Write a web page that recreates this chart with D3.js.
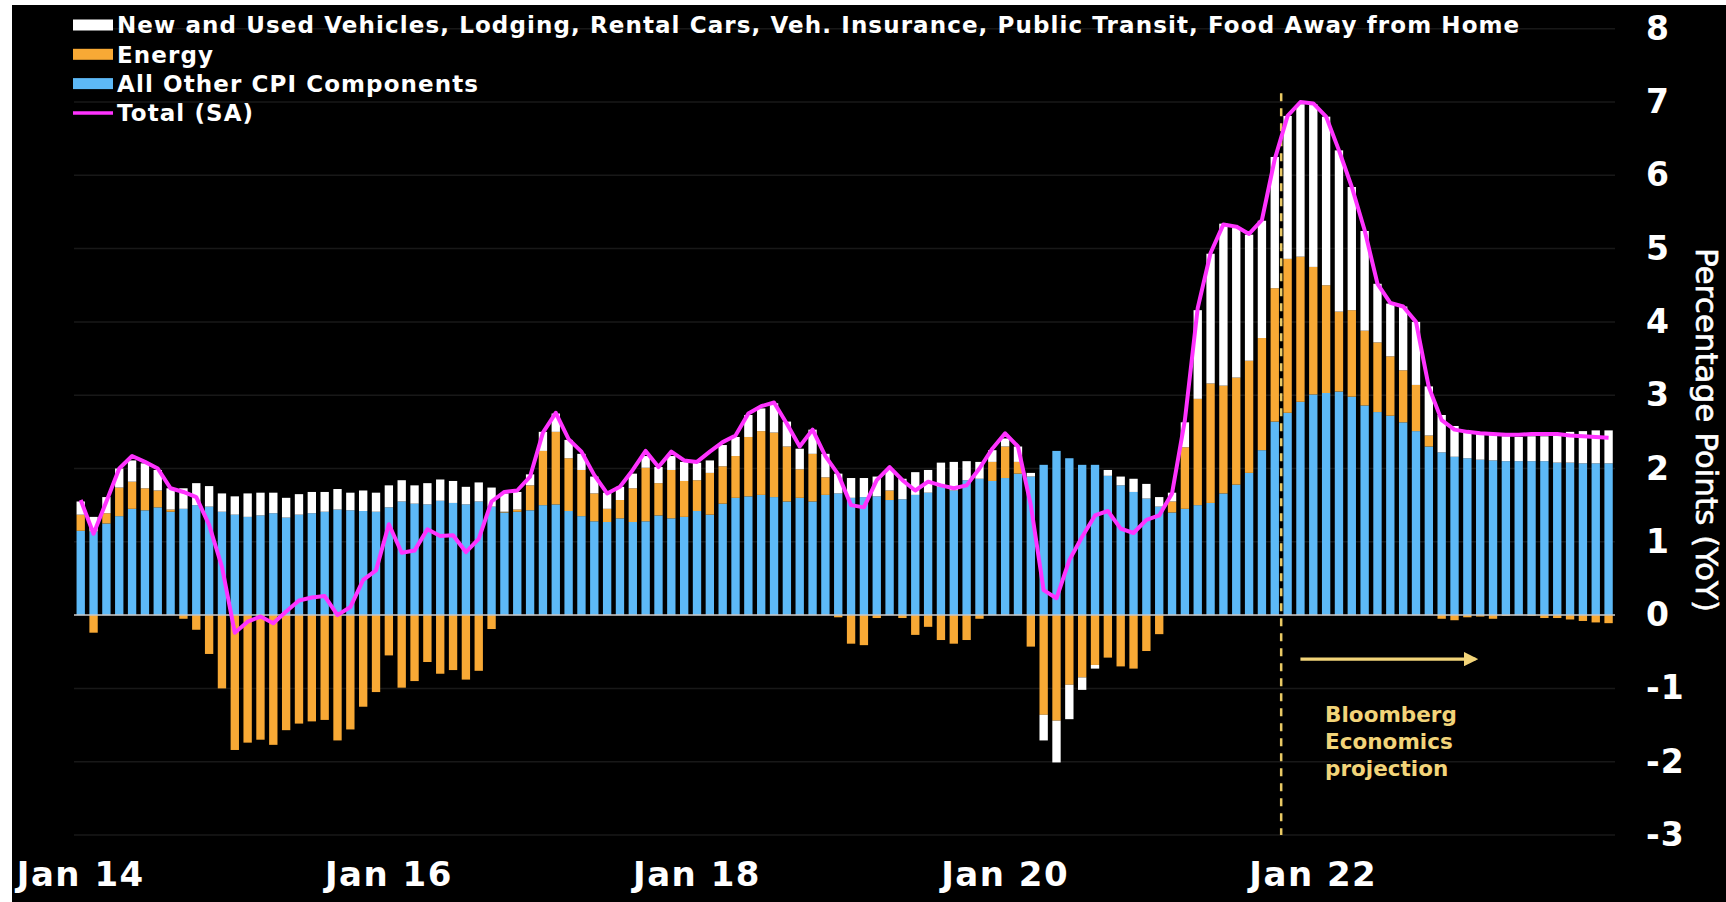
<!DOCTYPE html>
<html>
<head>
<meta charset="utf-8">
<script src="https://cdn.jsdelivr.net/npm/d3@7"></script>
<style>
  html, body { margin: 0; padding: 0; background: #fff; }
  svg { display: block; }
  text { font-family: "DejaVu Sans", Verdana, sans-serif; }
</style>
</head>
<body>
<svg id="chart" width="1726" height="902"></svg>
<script>
// months Jan 2014 .. Dec 2023
const fmtKey = d3.utcFormat('%Y-%m');
const months = d3.utcMonths(new Date(Date.UTC(2014, 0, 1)), new Date(Date.UTC(2024, 0, 1))).map(fmtKey);

// All Other CPI Components (blue)
const otherVals = [
  1.15, 1.14, 1.25, 1.35, 1.45, 1.43, 1.47, 1.41, 1.45, 1.50, 1.48, 1.41,
  1.37, 1.34, 1.36, 1.39, 1.33, 1.37, 1.39, 1.41, 1.44, 1.43, 1.42, 1.41,
  1.47, 1.55, 1.52, 1.51, 1.56, 1.53, 1.51, 1.55, 1.48, 1.40, 1.41, 1.43,
  1.50, 1.51, 1.42, 1.35, 1.28, 1.27, 1.32, 1.27, 1.28, 1.36, 1.32, 1.34,
  1.42, 1.37, 1.52, 1.60, 1.62, 1.64, 1.61, 1.55, 1.60, 1.55, 1.64, 1.66,
  1.60, 1.61, 1.62, 1.57, 1.58, 1.64, 1.67, 1.75, 1.70, 1.84, 1.86, 1.83,
  1.87, 1.93, 1.89, 2.05, 2.24, 2.14, 2.05, 2.05, 1.90, 1.77, 1.68, 1.59,
  1.48, 1.40, 1.45, 1.50, 1.53, 1.66, 1.78, 1.94, 2.25, 2.64, 2.76, 2.91,
  3.01, 3.03, 3.05, 2.98, 2.86, 2.77, 2.72, 2.63, 2.51, 2.30, 2.22, 2.16,
  2.14, 2.12, 2.11, 2.10, 2.10, 2.10, 2.10, 2.08, 2.08, 2.07, 2.07, 2.07
];
// Energy (orange)
const energyVals = [
  0.22, -0.24, 0.14, 0.39, 0.37, 0.30, 0.23, 0.03, -0.05, -0.20, -0.53, -1.00,
  -1.84, -1.74, -1.70, -1.77, -1.57, -1.48, -1.45, -1.43, -1.71, -1.56, -1.25, -1.05,
  -0.55, -0.99, -0.90, -0.64, -0.80, -0.75, -0.88, -0.76, -0.19, 0.01, 0.03, 0.34,
  0.74, 0.99, 0.72, 0.63, 0.38, 0.18, 0.25, 0.46, 0.73, 0.44, 0.66, 0.49,
  0.42, 0.57, 0.51, 0.57, 0.81, 0.87, 0.88, 0.75, 0.39, 0.65, 0.24, -0.03,
  -0.39, -0.41, -0.04, 0.13, -0.04, -0.27, -0.16, -0.34, -0.39, -0.34, -0.05, 0.26,
  0.43, 0.16, -0.43, -1.36, -1.44, -0.95, -0.85, -0.68, -0.58, -0.70, -0.73, -0.49,
  -0.26, 0.15, 0.84, 1.45, 1.63, 1.47, 1.46, 1.53, 1.53, 1.82, 2.10, 1.98,
  1.74, 1.47, 1.09, 1.18, 1.02, 0.95, 0.81, 0.71, 0.63, 0.15, -0.05, -0.07,
  -0.03, -0.02, -0.05, -0.01, 0.00, -0.01, -0.04, -0.04, -0.06, -0.08, -0.10, -0.11
];
// New and Used Vehicles, Lodging, Rental Cars, ... (white)
const vehicleVals = [
  0.18, 0.20, 0.22, 0.26, 0.29, 0.34, 0.28, 0.29, 0.28, 0.30, 0.28, 0.25,
  0.25, 0.32, 0.31, 0.28, 0.27, 0.28, 0.29, 0.27, 0.28, 0.24, 0.28, 0.26,
  0.30, 0.29, 0.25, 0.29, 0.29, 0.30, 0.24, 0.26, 0.26, 0.25, 0.24, 0.15,
  0.26, 0.25, 0.25, 0.22, 0.23, 0.22, 0.18, 0.20, 0.16, 0.22, 0.19, 0.26,
  0.24, 0.17, 0.29, 0.26, 0.30, 0.31, 0.40, 0.34, 0.28, 0.33, 0.32, 0.27,
  0.27, 0.26, 0.27, 0.28, 0.28, 0.31, 0.31, 0.33, 0.39, 0.26, 0.23, 0.16,
  0.11, 0.21, 0.05, -0.35, -0.57, -0.47, -0.17, -0.05, 0.08, 0.12, 0.18, 0.20,
  0.13, 0.12, 0.34, 1.21, 1.77, 2.21, 2.04, 1.72, 1.60, 1.79, 1.95, 2.08,
  2.22, 2.30, 2.20, 1.68, 1.36, 0.80, 0.72, 0.87, 0.86, 0.67, 0.51, 0.42,
  0.36, 0.36, 0.37, 0.34, 0.33, 0.34, 0.34, 0.40, 0.42, 0.44, 0.45, 0.45
];
// Total (SA)
const totalVals = [
  1.57, 1.11, 1.55, 2.00, 2.17, 2.09, 2.00, 1.73, 1.68, 1.61, 1.23, 0.66,
  -0.24, -0.09, -0.02, -0.11, 0.05, 0.20, 0.24, 0.26, 0.00, 0.11, 0.48, 0.61,
  1.24, 0.85, 0.88, 1.17, 1.08, 1.09, 0.86, 1.04, 1.55, 1.68, 1.70, 1.89,
  2.49, 2.76, 2.40, 2.23, 1.91, 1.66, 1.75, 1.98, 2.24, 2.02, 2.23, 2.11,
  2.09, 2.23, 2.36, 2.45, 2.75, 2.85, 2.90, 2.61, 2.30, 2.53, 2.17, 1.92,
  1.50, 1.47, 1.84, 2.02, 1.84, 1.70, 1.82, 1.77, 1.73, 1.77, 2.00, 2.27,
  2.48, 2.30, 1.50, 0.34, 0.23, 0.75, 1.07, 1.36, 1.42, 1.18, 1.12, 1.30,
  1.36, 1.66, 2.66, 4.19, 4.94, 5.33, 5.30, 5.20, 5.39, 6.22, 6.81, 7.00,
  6.98, 6.80, 6.34, 5.84, 5.25, 4.52, 4.26, 4.21, 4.00, 3.11, 2.66, 2.53,
  2.50, 2.48, 2.47, 2.46, 2.46, 2.47, 2.47, 2.47, 2.45, 2.44, 2.43, 2.42
];

const seriesKeys = ['other', 'energy', 'vehicles'];
const seriesLabels = [
  'New and Used Vehicles, Lodging, Rental Cars, Veh. Insurance, Public Transit, Food Away from Home',
  'Energy',
  'All Other CPI Components',
  'Total (SA)'
];
const colors = { other: '#5db9f7', energy: '#f8a935', vehicles: '#ffffff', total: '#ff33ff' };

const yTicks = [-3, -2, -1, 0, 1, 2, 3, 4, 5, 6, 7, 8];
const xTickMonths = ['2014-01', '2016-01', '2018-01', '2020-01', '2022-01'];
const xTickLabels = ['Jan 14', 'Jan 16', 'Jan 18', 'Jan 20', 'Jan 22'];
const projectionStart = ['2021-10', '2021-11'];
const noteLines = ['Bloomberg', 'Economics', 'projection'];

const rows = months.map((m, i) => ({
  month: m,
  other: otherVals[i],
  energy: energyVals[i],
  vehicles: vehicleVals[i],
  total: totalVals[i]
}));

const svg = d3.select('#chart');
svg.append('rect')
  .attr('x', 12).attr('y', 5)
  .attr('width', 1726 - 12).attr('height', 902 - 5)
  .attr('fill', '#000');

const x = d3.scaleBand()
  .domain(months)
  .range([74.3, 1615])
  .paddingInner(0.35)
  .paddingOuter(0.175);
const xc = m => x(m) + x.bandwidth() / 2;
const y = d3.scaleLinear()
  .domain([-3, 8])
  .range([835, 28.7]);

// grid
svg.append('g')
  .selectAll('line')
  .data(yTicks)
  .join('line')
    .attr('x1', 74).attr('x2', 1615)
    .attr('y1', d => y(d)).attr('y2', d => y(d))
    .attr('stroke', '#181818')
    .attr('stroke-width', 1.5);

// stacked bars
const stack = d3.stack()
  .keys(seriesKeys)
  .offset(d3.stackOffsetDiverging);
const layers = stack(rows);

svg.append('g')
  .selectAll('g')
  .data(layers)
  .join('g')
    .attr('fill', d => colors[d.key])
  .selectAll('rect')
  .data(d => d)
  .join('rect')
    .attr('x', d => x(d.data.month))
    .attr('width', x.bandwidth())
    .attr('y', d => y(Math.max(d[0], d[1])))
    .attr('height', d => Math.abs(y(d[0]) - y(d[1])));

// zero line
svg.append('line')
  .attr('x1', 74).attr('x2', 1615)
  .attr('y1', y(0)).attr('y2', y(0))
  .attr('stroke', '#c8c8c8')
  .attr('stroke-width', 1.5);

// projection marker
const projX = (xc(projectionStart[0]) + xc(projectionStart[1])) / 2;
svg.append('line')
  .attr('x1', projX).attr('x2', projX)
  .attr('y1', y(7.12)).attr('y2', y(-3))
  .attr('stroke', '#e9c964')
  .attr('stroke-width', 2.5)
  .attr('stroke-dasharray', '8,7');

// total line
const line = d3.line()
  .x(d => xc(d.month))
  .y(d => y(d.total));
svg.append('path')
  .datum(rows)
  .attr('fill', 'none')
  .attr('stroke', colors.total)
  .attr('stroke-width', 4)
  .attr('stroke-linejoin', 'round')
  .attr('d', line);

// arrow + note
const defs = svg.append('defs');
defs.append('marker')
  .attr('id', 'arrowhead')
  .attr('viewBox', '0 0 10 10')
  .attr('refX', 8).attr('refY', 5)
  .attr('markerWidth', 4.5).attr('markerHeight', 4.5)
  .attr('orient', 'auto')
  .append('path')
    .attr('d', 'M0,0 L10,5 L0,10 Z')
    .attr('fill', '#f2d479');
svg.append('line')
  .attr('x1', xc(months[95])).attr('x2', xc(months[108]) + 8)
  .attr('y1', y(-0.6)).attr('y2', y(-0.6))
  .attr('stroke', '#f2d479')
  .attr('stroke-width', 3.2)
  .attr('marker-end', 'url(#arrowhead)');
svg.append('g')
  .selectAll('text')
  .data(noteLines)
  .join('text')
    .attr('x', xc(months[97]) - 1)
    .attr('y', (d, i) => y(-1.46) + i * 27)
    .attr('fill', '#f2d479')
    .attr('font-size', 21.5)
    .attr('font-weight', 'bold')
    .text(d => d);

// x axis
const xAxis = svg.append('g')
  .attr('transform', 'translate(0,858)')
  .call(d3.axisBottom(x)
    .tickValues(xTickMonths)
    .tickFormat((d, i) => xTickLabels[i])
    .tickSize(0)
    .tickPadding(0));
xAxis.select('.domain').remove();
xAxis.selectAll('text')
  .attr('fill', '#fff')
  .attr('font-size', 34)
  .attr('font-weight', 'bold')
  .attr('letter-spacing', 1.5)
  .attr('font-family', '"DejaVu Sans", Verdana, sans-serif')
  .attr('dy', '0.82em');

// y axis (right)
const yAxis = svg.append('g')
  .attr('transform', 'translate(1640,0)')
  .call(d3.axisRight(y)
    .tickValues(yTicks)
    .tickFormat(d => d < 0 ? '-' + Math.abs(d) : String(d))
    .tickSize(0)
    .tickPadding(6));
yAxis.select('.domain').remove();
yAxis.selectAll('text')
  .attr('fill', '#fff')
  .attr('font-size', 33)
  .attr('font-weight', 'bold')
  .attr('letter-spacing', 1)
  .attr('font-family', '"DejaVu Sans", Verdana, sans-serif');

svg.append('text')
  .attr('transform', 'translate(1707,430) rotate(90)')
  .attr('text-anchor', 'middle')
  .attr('dy', '0.35em')
  .attr('fill', '#fff')
  .attr('font-size', 31)
  .attr('stroke', '#fff')
  .attr('stroke-width', 0.6)
  .text('Percentage Points (YoY)');

// legend
const legendKeys = ['vehicles', 'energy', 'other', 'total'];
const leg = svg.append('g')
  .selectAll('g')
  .data(legendKeys)
  .join('g')
    .attr('transform', (d, i) => `translate(73,${25 + i * 29.3})`);
leg.filter(d => d !== 'total').append('rect')
  .attr('x', 0).attr('y', -5.5)
  .attr('width', 40).attr('height', 11)
  .attr('fill', d => colors[d]);
leg.filter(d => d === 'total').append('line')
  .attr('x1', 0).attr('x2', 40)
  .attr('stroke', colors.total)
  .attr('stroke-width', 3.5);
leg.append('text')
  .attr('x', 44)
  .attr('dy', '0.36em')
  .attr('fill', '#fff')
  .attr('font-size', 23)
  .attr('font-weight', 'bold')
  .attr('letter-spacing', 1.1)
  .text((d, i) => seriesLabels[i]);
</script>
</body>
</html>
